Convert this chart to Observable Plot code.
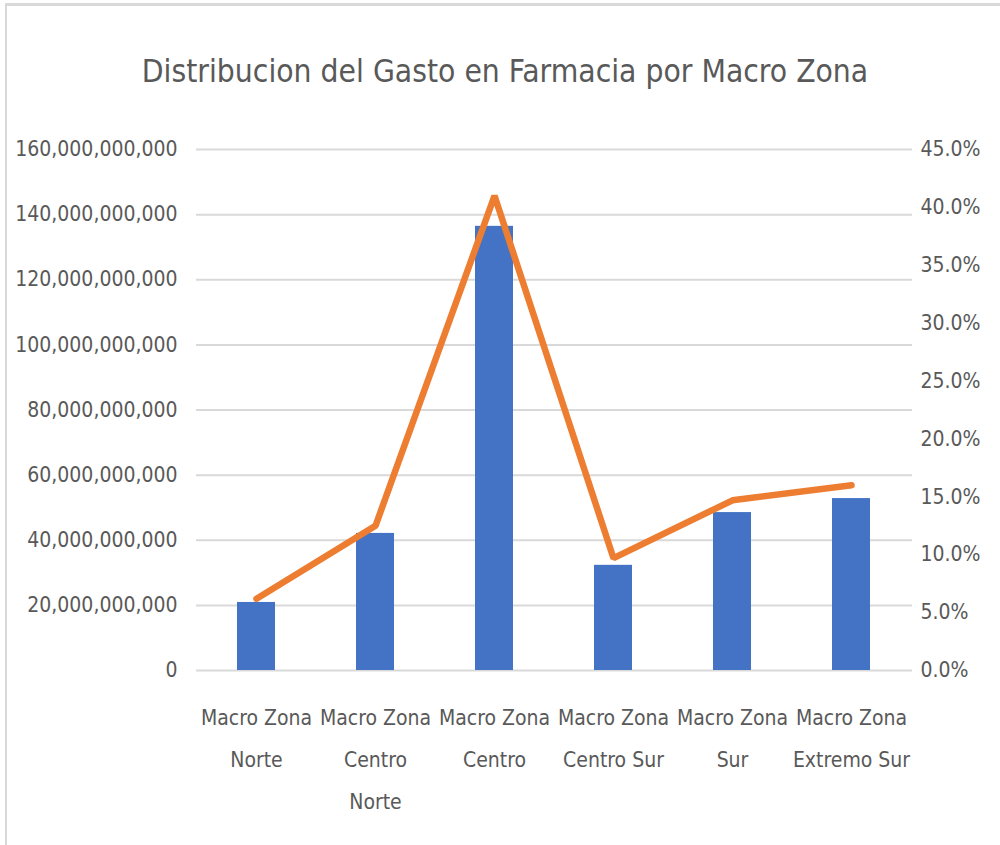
<!DOCTYPE html>
<html>
<head>
<meta charset="utf-8">
<script src="https://cdn.jsdelivr.net/npm/d3@7"></script>
<script src="https://cdn.jsdelivr.net/npm/@observablehq/plot@0.6"></script>
<style>
  html, body { margin: 0; padding: 0; background: #fff; }
  #wrap { position: relative; width: 1000px; height: 845px; overflow: hidden; background: #fff; }
  .bt { position: absolute; left: 5px; top: 3px; width: 995px; height: 3px; background: #d9d9d9; }
  .bl { position: absolute; left: 5px; top: 3px; width: 2px; height: 842px; background: #d9d9d9; }
  #title { height: 117px; display: flex; align-items: center; justify-content: center;
           font-family: "DejaVu Sans Condensed", "DejaVu Sans", sans-serif; font-stretch: condensed;
           font-size: 31.5px; color: #595959; padding-left: 10px; padding-top: 24px; box-sizing: border-box; }
  #chart svg { display: block; max-width: none !important; }
</style>
</head>
<body>
<div id="wrap">
  <div id="title">Distribucion del Gasto en Farmacia por Macro Zona</div>
  <div id="chart"></div>
  <div class="bt"></div>
  <div class="bl"></div>
</div>
<script>
const zonas = ["Macro Zona\nNorte", "Macro Zona\nCentro\nNorte", "Macro Zona\nCentro", "Macro Zona\nCentro Sur", "Macro Zona\nSur", "Macro Zona\nExtremo Sur"];
const gasto = [20.9e9, 42.1e9, 136.4e9, 32.3e9, 48.5e9, 52.8e9];
const porcentaje = [6.2, 12.5, 41.0, 9.7, 14.7, 16.0];
const leftTicks = [0, 20e9, 40e9, 60e9, 80e9, 100e9, 120e9, 140e9, 160e9];
const rightTicks = [0, 5, 10, 15, 20, 25, 30, 35, 40, 45];

const leftMax = 160e9, rightMax = 45;
const k = leftMax / rightMax;

const bars = zonas.map((z, i) => ({zona: z, gasto: gasto[i]}));
const line = zonas.map((z, i) => ({zona: z, v: porcentaje[i] * k}));

const font = "DejaVu Sans Condensed, DejaVu Sans, sans-serif";

const chart = Plot.plot({
  width: 1000,
  height: 728,
  marginTop: 32,
  marginBottom: 175,
  marginLeft: 196,
  marginRight: 88,
  style: {fontFamily: font, fontStretch: "condensed", fontSize: "21px", color: "#595959", background: "transparent"},
  x: {domain: zonas, paddingInner: 0.68, paddingOuter: 0.34},
  y: {domain: [0, leftMax]},
  marks: [
    Plot.ruleY(leftTicks, {stroke: "#d9d9d9", strokeWidth: 2}),
    Plot.barY(bars, {x: "zona", y: "gasto", fill: "#4472C4"}),
    Plot.line(line, {x: "zona", y: "v", stroke: "#ED7D31", strokeWidth: 6.5, strokeLinejoin: "miter", strokeLinecap: "round"}),
    Plot.axisY(leftTicks, {anchor: "left", tickSize: 0, tickPadding: 19, tickFormat: d3.format(","), label: null, fill: "#595959"}),
    Plot.axisY(rightTicks.map(p => p * k), {anchor: "right", tickSize: 0, tickPadding: 8, tickFormat: d => (d / k).toFixed(1) + "%", label: null, fill: "#595959"}),
    Plot.axisX({tickSize: 0, tickPadding: 25, lineHeight: 2.0, label: null, fill: "#595959"})
  ]
});
document.getElementById("chart").appendChild(chart);
</script>
</body>
</html>
